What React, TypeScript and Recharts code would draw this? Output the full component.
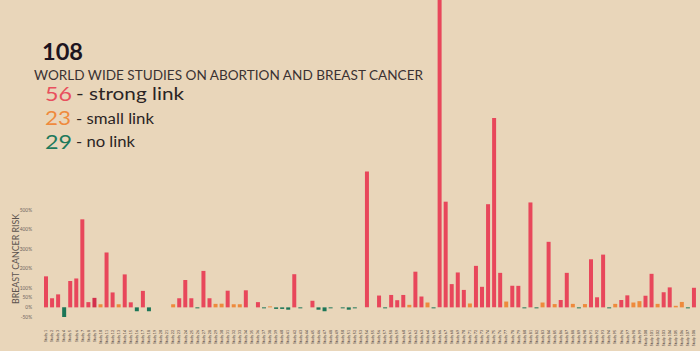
import React from 'react';
import { BarChart, Bar, XAxis, YAxis, Cell } from 'recharts';

// risk increase per study, in percent
const riskValues = [
  160, 47, 67, -50, 136, 149, 454, 27, 49, 16,
  283, 77, 16, 170, 26, -20, 85, -20, 0, 0,
  0, 16, 47, 141, 47, -5, 188, 47, 18, 19,
  86, 16, 16, 88, 0, 27, -5, 5, -8, -8,
  -12, 171, -5, 0, 34, -12, -20, -5, 0, -5,
  -12, -5, 0, 701, 0, 61, -5, 64, 37, 64,
  13, 184, 56, 25, -5, 1700, 545, 120, 180, 90,
  20, 214, 106, 532, 977, 178, 30, 111, 111, -5,
  541, -5, 25, 338, 17, 38, 178, 18, -5, 17,
  248, 52, 272, -5, 18, 38, 62, 25, 32, 60,
  173, 18, 78, 103, 8, 28, -5, 101,
];

// r = strong link, d = strong link (darker), o = small link, g = no link
const linkKinds = [
  'r', 'r', 'r', 'g', 'r', 'r', 'r', 'r', 'd', 'o',
  'r', 'r', 'o', 'r', 'r', 'g', 'r', 'g', 'g', 'g',
  'o', 'o', 'r', 'r', 'r', 'g', 'r', 'r', 'o', 'o',
  'r', 'o', 'o', 'r', 'g', 'r', 'g', 'o', 'g', 'g',
  'g', 'r', 'g', 'g', 'r', 'g', 'g', 'g', 'g', 'g',
  'g', 'g', 'g', 'r', 'g', 'r', 'g', 'r', 'r', 'r',
  'o', 'r', 'r', 'o', 'g', 'r', 'r', 'r', 'r', 'r',
  'o', 'r', 'r', 'r', 'r', 'r', 'o', 'r', 'r', 'g',
  'r', 'g', 'o', 'r', 'o', 'r', 'r', 'o', 'g', 'o',
  'r', 'r', 'r', 'g', 'o', 'r', 'r', 'o', 'o', 'r',
  'r', 'o', 'r', 'r', 'o', 'o', 'g', 'r',
];

// study labels are illegible in the source, so they are numbered
const studyLabels = riskValues.map((_, i) => `Study ${i + 1}`);

const yTicks = [-50, 0, 50, 100, 200, 300, 400, 500];

const COLORS: Record<string, string> = {
  r: '#E8475B',
  d: '#D3304C',
  o: '#EE8A3C',
  g: '#1C7657',
};

const BG = '#E9D6BA';

const data = riskValues.map((v, i) => ({ name: studyLabels[i], risk: v, kind: linkKinds[i] }));

const StudyTick = (props: any) => {
  const { x, y, payload } = props;
  return (
    <text
      x={0}
      y={0}
      transform={`translate(${x + 1.2},${y + 3}) rotate(-90)`}
      textAnchor="end"
      fontSize={3.6}
      fill="#3f3533"
      fontFamily="Lato, sans-serif"
    >
      {payload.value}
    </text>
  );
};

const RiskTick = (props: any) => {
  const { y, payload } = props;
  return (
    <text x={32} y={y + 1.6} textAnchor="end" fontSize={4.8} fill="#6d6560" fontFamily="Lato, sans-serif">
      {`${payload.value}%`}
    </text>
  );
};

const App = () => {
  return (
    <div style={{ position: 'absolute', left: 0, top: 0, width: 700, height: 351, background: BG, overflow: 'hidden' }}>
      <BarChart width={700} height={351} data={data} margin={{ top: 0, right: 3, left: 0, bottom: 2 }} barSize={4}>
        <XAxis dataKey="name" interval={0} tickLine={false} axisLine={false} height={30} tick={<StudyTick />} />
        <YAxis
          width={43}
          domain={[-60, 1585]}
          allowDataOverflow
          ticks={yTicks}
          interval={0}
          tickLine={false}
          axisLine={false}
          tick={<RiskTick />}
        />
        <Bar dataKey="risk" isAnimationActive={false}>
          {data.map((entry, index) => (
            <Cell key={`cell-${index}`} fill={COLORS[entry.kind]} />
          ))}
        </Bar>
      </BarChart>
      <svg width={700} height={351} style={{ position: 'absolute', left: 0, top: 0, pointerEvents: 'none' }}>
        <g fontFamily="Lato, sans-serif">
          <text x={42} y={60} fontSize={22} fontWeight={700} fill="#1d1420" textLength={41} lengthAdjust="spacingAndGlyphs">
            108
          </text>
          <text x={34} y={79.5} fontSize={13} fill="#3b3232" textLength={389} lengthAdjust="spacingAndGlyphs">
            WORLD WIDE STUDIES ON ABORTION AND BREAST CANCER
          </text>
          <text x={45} y={101} fontSize={20} fill="#E8505E" textLength={27} lengthAdjust="spacingAndGlyphs">
            56
          </text>
          <text x={76} y={99.5} fontSize={18} fill="#2b2424" textLength={108} lengthAdjust="spacingAndGlyphs">
            - strong link
          </text>
          <text x={45} y={125} fontSize={20} fill="#EF8A3D" textLength={26} lengthAdjust="spacingAndGlyphs">
            23
          </text>
          <text x={76} y={124} fontSize={15.5} fill="#2b2424" textLength={78} lengthAdjust="spacingAndGlyphs">
            - small link
          </text>
          <text x={45} y={148.5} fontSize={20} fill="#1E7A5C" textLength={27} lengthAdjust="spacingAndGlyphs">
            29
          </text>
          <text x={76} y={147} fontSize={15.5} fill="#2b2424" textLength={59} lengthAdjust="spacingAndGlyphs">
            - no link
          </text>
          <text
            x={0}
            y={0}
            transform="translate(18.5,259) rotate(-90)"
            textAnchor="middle"
            fontSize={9.5}
            fill="#5b534e"
            textLength={90}
            lengthAdjust="spacingAndGlyphs"
          >
            BREAST CANCER RISK
          </text>
        </g>
      </svg>
    </div>
  );
};

export default App;
